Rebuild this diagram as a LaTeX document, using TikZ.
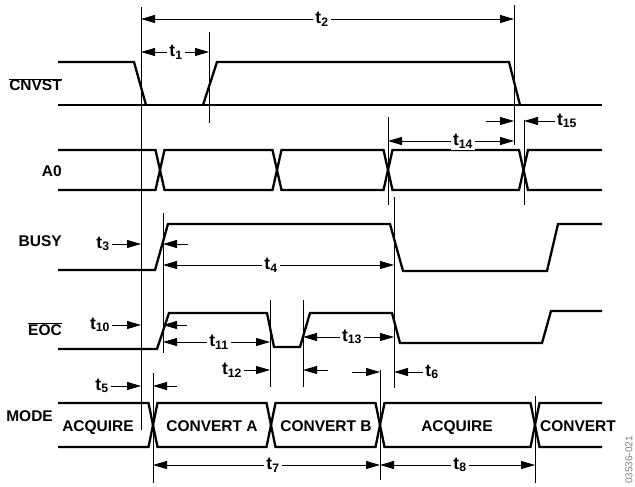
\documentclass[tikz,border=0pt]{standalone}
\usepackage{fontspec}
\setmainfont{Liberation Sans}
\usetikzlibrary{arrows.meta,calc}

\newcommand{\tsub}[1]{t\textsubscript{#1}}

\begin{document}
\begin{tikzpicture}[x=1pt,y=-1pt,>={Triangle[length=14pt,width=8pt]},
  sig/.style={line width=2.3pt},
  guide/.style={line width=0.9pt},
  dim/.style={->,line width=0.9pt},
  tlab/.style={fill=white,inner sep=2pt,font=\fontsize{17.5}{19}\selectfont\bfseries},
  sname/.style={anchor=base east,inner sep=0pt,font=\fontsize{15.5}{17}\selectfont\bfseries},
  phase/.style={anchor=base,inner sep=0pt,font=\fontsize{15.5}{17}\selectfont\bfseries}]

\useasboundingbox (0,0) rectangle (635,487);

% guide lines
\foreach \n/\x/\ya/\yb in {cnvF/141/7/430,cnvR/209/32/123,cnvE/514/5/145,
    a0X/388/117/205,a0Y/524/120/205,busyR/163/213/353,busyF/394/197/388,
    eocF/270/300/387,eocR/303/300/387,modeA/153/373/483,modeB/380/370/480,
    modeC/535/396/483}
  {\coordinate (\n) at (\x,\ya); \draw[guide] (\n) -- (\x,\yb);}

% signal names
\node[sname] (cnvst) at (62,91) {$\overline{\mbox{CNVST}}$};
\node[sname] (a0) at (62,176) {A0};
\node[sname] (busy) at (62,246) {BUSY};
\node[sname] (eoc) at (62,335) {$\overline{\mbox{EOC}}$};
\node[sname] (mode) at (53,421) {MODE};

% waveforms
\draw[sig] (58,105) -- (602,105);
\draw[sig] (58,62) -- (134,62) -- (146,105) (203,105) -- (217,62) -- (509,62) -- (520,105);
\draw[sig] (58,150) -- (155.5,150) -- (164.5,190) -- (272.5,190) -- (281.5,150) -- (383.5,150)
  -- (392.5,190) -- (519,190) -- (528,150) -- (602,150);
\draw[sig] (58,190) -- (155.5,190) -- (164.5,150) -- (272.5,150) -- (281.5,190) -- (383.5,190)
  -- (392.5,150) -- (519,150) -- (528,190) -- (602,190);
\draw[sig] (58,270) -- (155,270) -- (168,224) -- (390,224) -- (403,271) -- (547,271)
  -- (558,224) -- (602,224);
\draw[sig] (58,349) -- (157,349) -- (169,313) -- (267,313) -- (274,347) -- (300,347)
  -- (310,313) -- (392,313) -- (400,343) -- (542,343) -- (551,311) -- (602,311);
\draw[sig] (58,403) -- (148.5,403) -- (157.5,447) -- (266.5,447) -- (275.5,403) -- (375.5,403)
  -- (384.5,447) -- (530.5,447) -- (539.5,403) -- (602,403);
\draw[sig] (58,447) -- (148.5,447) -- (157.5,403) -- (266.5,403) -- (275.5,447) -- (375.5,447)
  -- (384.5,403) -- (530.5,403) -- (539.5,447) -- (602,447);

% mode phases
\node[phase] (acq1) at (98,431) {ACQUIRE};
\node[phase] (cva) at (212,431) {CONVERT A};
\node[phase] (cvb) at (326,431) {CONVERT B};
\node[phase] (acq2) at (457,431) {ACQUIRE};
\node[phase] (cvn) at (578,431) {CONVERT};

% timing labels
\node[tlab] (t1) at (176,52) {\tsub{1}};
\node[tlab] (t2) at (322,19) {\tsub{2}};
\node[tlab] (t3) at (103,244) {\tsub{3}};
\node[tlab] (t4) at (271,265) {\tsub{4}};
\node[tlab] (t5) at (102,386) {\tsub{5}};
\node[tlab] (t6) at (432,372) {\tsub{6}};
\node[tlab] (t7) at (273,465) {\tsub{7}};
\node[tlab] (t8) at (460,465) {\tsub{8}};
\node[tlab] (t10) at (100,325) {\tsub{10}};
\node[tlab] (t11) at (219,342) {\tsub{11}};
\node[tlab] (t12) at (232,370) {\tsub{12}};
\node[tlab] (t13) at (352,337) {\tsub{13}};
\node[tlab] (t14) at (463,141) {\tsub{14}};
\node[tlab] (t15) at (567,121) {\tsub{15}};

% dimension arrows
\draw[dim] (t1.west) -- (t1.west -| cnvF);
\draw[dim] (t1.east) -- (t1.east -| cnvR);
\draw[dim] (t2.west) -- (t2.west -| cnvF);
\draw[dim] (t2.east) -- (t2.east -| cnvE);
\draw[dim] (t14.west) -- (t14.west -| a0X);
\draw[dim] (t14.east) -- (t14.east -| cnvE);
\draw[dim] (t15.west) -- (t15.west -| a0Y);
\draw[dim] ($(t15 -| cnvE)+(-28,0)$) -- (t15 -| cnvE);
\draw[dim] (t3.east) -- (t3.east -| cnvF);
\draw[dim] ($(t3 -| busyR)+(25,0)$) -- (t3 -| busyR);
\draw[dim] (t4.west) -- (t4.west -| busyR);
\draw[dim] (t4.east) -- (t4.east -| busyF);
\draw[dim] (t10.east) -- (t10.east -| cnvF);
\draw[dim] ($(t10 -| busyR)+(24,0)$) -- (t10 -| busyR);
\draw[dim] (t11.west) -- (t11.west -| busyR);
\draw[dim] (t11.east) -- (t11.east -| eocF);
\draw[dim] (t12.east) -- (t12.east -| eocF);
\draw[dim] ($(t12 -| eocR)+(25,0)$) -- (t12 -| eocR);
\draw[dim] (t13.west) -- (t13.west -| eocR);
\draw[dim] (t13.east) -- (t13.east -| busyF);
\draw[dim] (t6.west) -- (t6.west -| busyF);
\draw[dim] ($(t6 -| modeB)+(-28,0)$) -- (t6 -| modeB);
\draw[dim] (t5.east) -- (t5.east -| cnvF);
\draw[dim] ($(t5 -| modeA)+(24,0)$) -- (t5 -| modeA);
\draw[dim] (t7.west) -- (t7.west -| modeA);
\draw[dim] (t7.east) -- (t7.east -| modeB);
\draw[dim] (t8.west) -- (t8.west -| modeB);
\draw[dim] (t8.east) -- (t8.east -| modeC);

% figure number
\node[rotate=90,text=gray,font=\fontsize{10}{11}\selectfont] (fignum) at (629,460) {03536-021};
\end{tikzpicture}
\end{document}
